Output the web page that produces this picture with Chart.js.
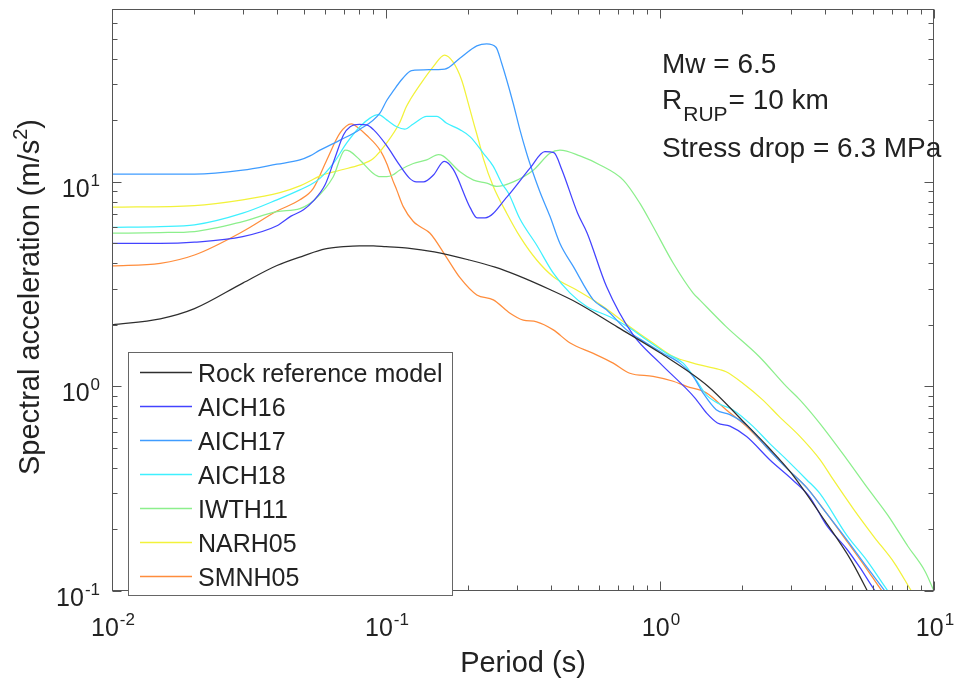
<!DOCTYPE html>
<html>
<head>
<meta charset="utf-8">
<script src="https://cdn.jsdelivr.net/npm/chart.js@4.4.1/dist/chart.umd.min.js"></script>
<style>
  html, body { margin: 0; padding: 0; background: #fff; }
  #wrap { width: 955px; height: 682px; }
</style>
</head>
<body>
<div id="wrap"><canvas id="saChart" width="955" height="682"></canvas></div>
<script>
// Response spectra: period (s) and spectral acceleration (m/s^2) for each site
const rockT  = [0.01, 0.015, 0.02, 0.03, 0.04, 0.05, 0.06, 0.07, 0.08, 0.09, 0.1, 0.12, 0.15, 0.2, 0.25, 0.3, 0.4, 0.5, 0.7, 1.0, 1.5, 2.0, 2.5, 3.0, 4.0, 5.0, 6.0];
const rockSa = [2.0, 2.14, 2.4, 3.2, 3.9, 4.35, 4.7, 4.82, 4.87, 4.87, 4.82, 4.75, 4.55, 4.16, 3.83, 3.5, 2.96, 2.56, 1.95, 1.46, 1.0, 0.68, 0.5, 0.38, 0.22, 0.14, 0.088];

const aich16T  = [0.01, 0.015, 0.02, 0.03, 0.04, 0.045, 0.05, 0.054, 0.06, 0.065, 0.07, 0.074, 0.08, 0.085, 0.09, 0.1, 0.112, 0.122, 0.129, 0.137, 0.149, 0.163, 0.176, 0.203, 0.215, 0.23, 0.277, 0.336, 0.38, 0.41, 0.438, 0.5, 0.542, 0.638, 0.797, 1.0, 1.34, 1.48, 1.62, 1.8, 2.07, 2.52, 3.05, 3.52, 4.05, 4.81, 5.37, 6.1, 6.5];
const aich16Sa = [5.0, 5.0, 5.07, 5.4, 6.1, 6.8, 7.3, 8.0, 9.7, 13.0, 17.0, 18.6, 19.1, 19.0, 18.0, 15.2, 12.1, 10.4, 10.0, 10.0, 10.8, 12.6, 11.5, 7.46, 6.67, 6.67, 8.47, 11.7, 14.06, 13.9, 11.5, 7.05, 5.63, 3.08, 1.79, 1.30, 0.88, 0.74, 0.663, 0.64, 0.569, 0.437, 0.349, 0.288, 0.21, 0.16, 0.13, 0.1, 0.09];

const aich17T  = [0.01, 0.015, 0.02, 0.03, 0.04, 0.0485, 0.0528, 0.0574, 0.068, 0.08, 0.095, 0.1006, 0.106, 0.115, 0.124, 0.164, 0.186, 0.2145, 0.233, 0.252, 0.264, 0.291, 0.308, 0.326, 0.335, 0.365, 0.397, 0.431, 0.483, 0.571, 0.638, 0.755, 0.892, 1.028, 1.182, 1.321, 1.435, 1.604, 1.79, 2.06, 2.43, 2.89, 3.43, 4.05, 4.81, 5.71, 6.62, 7.0];
const aich17Sa = [10.9, 10.9, 10.9, 11.4, 12.2, 12.8, 13.4, 14.3, 16.0, 18.0, 21.7, 25.0, 27.7, 32.0, 35.0, 35.6, 40.2, 46.2, 47.3, 45.5, 38.2, 24.3, 18.0, 13.8, 12.3, 8.9, 6.77, 5.01, 3.85, 2.65, 2.37, 1.89, 1.63, 1.45, 1.30, 1.12, 0.93, 0.77, 0.73, 0.65, 0.51, 0.40, 0.32, 0.24, 0.178, 0.13, 0.1, 0.09];

const aich18T  = [0.01, 0.015, 0.02, 0.03, 0.04, 0.0485, 0.0528, 0.0574, 0.0642, 0.0719, 0.0803, 0.0874, 0.0938, 0.1006, 0.1094, 0.117, 0.1258, 0.1408, 0.1533, 0.166, 0.186, 0.203, 0.2266, 0.2464, 0.2644, 0.28, 0.308, 0.355, 0.408, 0.47, 0.54, 0.656, 0.776, 0.892, 1.057, 1.215, 1.358, 1.476, 1.649, 1.843, 2.18, 2.5, 2.89, 3.43, 3.83, 4.81, 5.71, 6.79, 7.2];
const aich18Sa = [6.0, 6.05, 6.16, 7.03, 8.17, 9.14, 9.66, 10.4, 12.3, 15.5, 18.6, 20.5, 21.3, 20.1, 18.6, 18.1, 19.2, 20.9, 20.9, 19.4, 18.0, 16.6, 13.8, 11.9, 9.85, 8.8, 6.6, 4.9, 3.58, 2.86, 2.46, 2.19, 1.93, 1.69, 1.45, 1.30, 1.07, 0.91, 0.82, 0.77, 0.64, 0.53, 0.44, 0.35, 0.30, 0.187, 0.14, 0.1, 0.09];

const iwth11T  = [0.01, 0.015, 0.02, 0.03, 0.04, 0.0485, 0.055, 0.0642, 0.0709, 0.0739, 0.0803, 0.0899, 0.0951, 0.1006, 0.1058, 0.112, 0.1258, 0.1408, 0.1554, 0.1614, 0.1862, 0.2087, 0.2331, 0.2535, 0.2913, 0.3446, 0.3967, 0.4313, 0.5105, 0.6038, 0.7345, 0.8438, 0.9434, 1.118, 1.321, 1.396, 1.743, 2.30, 2.89, 3.24, 3.83, 4.81, 5.71, 6.78, 8.04, 9.27, 10.0];
const iwth11Sa = [5.61, 5.65, 5.72, 6.4, 7.16, 7.4, 8.2, 10.6, 14.3, 14.1, 12.8, 11.0, 10.6, 10.6, 10.8, 11.4, 12.3, 12.8, 13.6, 13.4, 11.2, 10.2, 9.85, 9.5, 10.0, 11.4, 13.8, 14.3, 13.4, 12.1, 10.2, 7.87, 6.05, 4.0, 2.86, 2.65, 1.96, 1.40, 1.0, 0.86, 0.66, 0.44, 0.32, 0.235, 0.165, 0.125, 0.1];

const narh05T  = [0.01, 0.02, 0.03, 0.041, 0.0485, 0.0528, 0.0574, 0.0679, 0.0803, 0.0899, 0.1006, 0.112, 0.1186, 0.1225, 0.133, 0.1488, 0.1636, 0.1753, 0.1888, 0.2, 0.2087, 0.2204, 0.2266, 0.2464, 0.2758, 0.3083, 0.3548, 0.4079, 0.4963, 0.62, 0.776, 0.943, 1.118, 1.321, 1.649, 1.743, 2.0, 2.37, 2.73, 3.24, 3.83, 4.29, 5.10, 6.04, 7.17, 8.27, 8.6];
const narh05Sa = [7.52, 7.66, 8.17, 8.86, 9.56, 10.1, 10.7, 11.4, 12.1, 13.0, 15.5, 19.4, 23.3, 25.2, 29.8, 36.6, 41.7, 38.7, 31.5, 24.0, 19.5, 15.0, 13.0, 9.5, 7.03, 5.4, 4.15, 3.44, 2.96, 2.46, 1.96, 1.63, 1.40, 1.30, 1.21, 1.18, 1.04, 0.86, 0.71, 0.57, 0.44, 0.35, 0.25, 0.184, 0.137, 0.1, 0.092];

const smnh05T  = [0.01, 0.015, 0.02, 0.03, 0.04, 0.0485, 0.0543, 0.0608, 0.0679, 0.0748, 0.0782, 0.085, 0.0951, 0.1006, 0.1058, 0.1094, 0.1156, 0.1258, 0.133, 0.1448, 0.1658, 0.1862, 0.2145, 0.2464, 0.2836, 0.3169, 0.3548, 0.408, 0.47, 0.571, 0.675, 0.776, 0.943, 1.118, 1.25, 1.476, 1.743, 2.06, 2.43, 2.89, 3.43, 4.05, 4.81, 5.71, 6.46, 6.8];
const smnh05Sa = [3.88, 4.0, 4.39, 5.72, 7.2, 8.17, 9.3, 12.8, 17.3, 19.2, 18.6, 16.9, 14.3, 12.3, 10.2, 9.14, 7.57, 6.4, 6.05, 5.61, 4.3, 3.4, 2.8, 2.65, 2.28, 2.11, 2.07, 1.89, 1.63, 1.45, 1.30, 1.16, 1.12, 1.06, 1.0, 0.93, 0.77, 0.64, 0.51, 0.40, 0.32, 0.24, 0.175, 0.127, 0.1, 0.092];

const seriesNames = ['Rock reference model', 'AICH16', 'AICH17', 'AICH18', 'IWTH11', 'NARH05', 'SMNH05'];
const seriesT  = [rockT, aich16T, aich17T, aich18T, iwth11T, narh05T, smnh05T];
const seriesSa = [rockSa, aich16Sa, aich17Sa, aich18Sa, iwth11Sa, narh05Sa, smnh05Sa];
const seriesColors = ['#2e2e2e', '#4343ff', '#3f9cff', '#3ef0ff', '#8cef8c', '#f2f23a', '#ff8d3c'];

// axis limits and decade labels
const xMin = 0.01, xMax = 10;
const yMin = 0.1, yMax = 70;
const xDecades = [-2, -1, 0, 1];
const yDecades = [-1, 0, 1];

const annotationLines = ['Mw = 6.5', 'Stress drop = 6.3 MPa'];

const datasets = seriesNames.map((name, i) => ({
    label: name,
    data: seriesT[i].map((t, k) => ({ x: t, y: seriesSa[i][k] })),
    borderColor: seriesColors[i],
    backgroundColor: seriesColors[i],
    borderWidth: 1.25,
    pointRadius: 0,
    cubicInterpolationMode: 'monotone',
    fill: false
}));

const AXIS_COLOR = '#555';
const TEXT_COLOR = '#222';
const FONT = '"Liberation Sans", Arial, Helvetica, sans-serif';

// draws "10" with a raised exponent, anchored at x (right or center aligned)
function drawPow(ctx, exp, x, baseline, align) {
    ctx.font = '25px ' + FONT;
    const w1 = ctx.measureText('10').width;
    ctx.font = '17px ' + FONT;
    const w2 = ctx.measureText(String(exp)).width;
    const total = w1 + w2 + 1;
    const start = align === 'right' ? x - total : x - total / 2;
    ctx.textAlign = 'left';
    ctx.textBaseline = 'alphabetic';
    ctx.font = '25px ' + FONT;
    ctx.fillText('10', start, baseline);
    ctx.font = '17px ' + FONT;
    ctx.fillText(String(exp), start + w1 + 1, baseline - 11);
}

// box, inward ticks on all sides, tick labels, titles, legend and notes
const matlabAxes = {
    id: 'matlabAxes',
    afterDraw(chart) {
        const { ctx, chartArea: a, scales: { x, y } } = chart;
        ctx.save();
        ctx.strokeStyle = AXIS_COLOR;
        ctx.lineWidth = 1;
        const L = Math.round(a.left) + 0.5, R = Math.round(a.right) - 0.5;
        const T = Math.round(a.top) + 0.5, B = Math.round(a.bottom) - 0.5;
        ctx.strokeRect(L, T, R - L, B - T);

        const major = 9, minor = 5;
        ctx.beginPath();
        // x ticks (top and bottom)
        xDecades.forEach(d => {
            const base = Math.pow(10, d);
            for (let m = 1; m <= 9; m++) {
                const v = base * m;
                if (v < xMin - 1e-9 || v > xMax + 1e-9) continue;
                const px = Math.round(x.getPixelForValue(v)) + 0.5;
                const len = m === 1 ? major : minor;
                ctx.moveTo(px, B); ctx.lineTo(px, B - len);
                ctx.moveTo(px, T); ctx.lineTo(px, T + len);
            }
        });
        // y ticks (left and right)
        yDecades.forEach(d => {
            const base = Math.pow(10, d);
            for (let m = 1; m <= 9; m++) {
                const v = base * m;
                if (v < yMin - 1e-9 || v > yMax + 1e-9) continue;
                const py = Math.round(y.getPixelForValue(v)) + 0.5;
                const len = m === 1 ? major : minor;
                ctx.moveTo(L, py); ctx.lineTo(L + len, py);
                ctx.moveTo(R, py); ctx.lineTo(R - len, py);
            }
        });
        ctx.stroke();

        // tick labels
        ctx.fillStyle = TEXT_COLOR;
        xDecades.forEach(d => {
            const px = x.getPixelForValue(Math.pow(10, d));
            drawPow(ctx, d, px + 1, 636, 'center');
        });
        yDecades.forEach(d => {
            const py = y.getPixelForValue(Math.pow(10, d));
            drawPow(ctx, d, 100, py + 15, 'right');
        });

        // axis titles
        ctx.font = '29px ' + FONT;
        ctx.textAlign = 'center';
        ctx.textBaseline = 'alphabetic';
        ctx.fillText('Period (s)', (a.left + a.right) / 2, 672);

        ctx.save();
        ctx.translate(39, 297);
        ctx.rotate(-Math.PI / 2);
        const part1 = 'Spectral acceleration (m/s';
        ctx.font = '29px ' + FONT;
        const w1 = ctx.measureText(part1).width;
        const w3 = ctx.measureText(')').width;
        ctx.font = '20px ' + FONT;
        const w2 = ctx.measureText('2').width;
        let sx = -(w1 + w2 + w3) / 2;
        ctx.textAlign = 'left';
        ctx.font = '29px ' + FONT;
        ctx.fillText(part1, sx, 0);
        ctx.font = '20px ' + FONT;
        ctx.fillText('2', sx + w1, -12);
        ctx.font = '29px ' + FONT;
        ctx.fillText(')', sx + w1 + w2, 0);
        ctx.restore();

        // legend box in the lower-left corner
        const lx = 128.5, ly = 352.5, lw = 324, lh = 243;
        ctx.fillStyle = '#fff';
        ctx.fillRect(lx, ly, lw, lh);
        ctx.strokeStyle = '#666';
        ctx.lineWidth = 1;
        ctx.strokeRect(lx, ly, lw, lh);
        ctx.font = '25px ' + FONT;
        ctx.textAlign = 'left';
        chart.data.datasets.forEach((ds, i) => {
            const cy = 372 + i * 34;
            ctx.strokeStyle = ds.borderColor;
            ctx.lineWidth = 1.5;
            ctx.beginPath();
            ctx.moveTo(140, cy + 0.5);
            ctx.lineTo(192, cy + 0.5);
            ctx.stroke();
            ctx.fillStyle = TEXT_COLOR;
            ctx.fillText(ds.label, 198, cy + 10);
        });

        // event parameters
        ctx.fillStyle = TEXT_COLOR;
        ctx.font = '28px ' + FONT;
        ctx.fillText(annotationLines[0], 662, 73);
        ctx.fillText('R', 662, 109);
        const rw = ctx.measureText('R').width;
        ctx.font = '21px ' + FONT;
        ctx.fillText('RUP', 662 + rw + 1, 121);
        const subw = ctx.measureText('RUP').width;
        ctx.font = '28px ' + FONT;
        ctx.fillText('= 10 km', 662 + rw + subw + 2, 109);
        ctx.fillText(annotationLines[1], 662, 157);
        ctx.restore();
    }
};

new Chart(document.getElementById('saChart'), {
    type: 'line',
    data: { datasets },
    options: {
        responsive: false,
        animation: false,
        devicePixelRatio: 1,
        parsing: true,
        layout: { padding: { left: 112, top: 9, right: 21, bottom: 91 } },
        scales: {
            x: { type: 'logarithmic', min: xMin, max: xMax, display: false },
            y: { type: 'logarithmic', min: yMin, max: yMax, display: false }
        },
        plugins: {
            legend: { display: false },
            tooltip: { enabled: false }
        }
    },
    plugins: [matlabAxes]
});
</script>
</body>
</html>
